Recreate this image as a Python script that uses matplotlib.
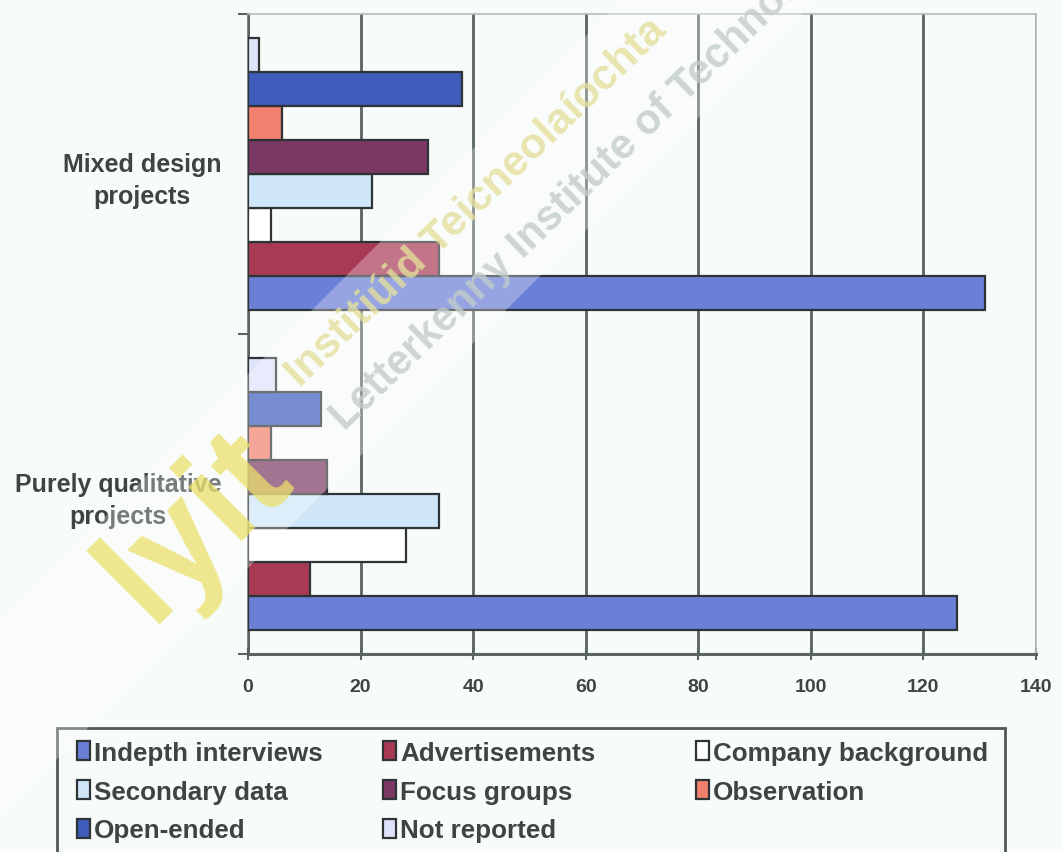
import numpy as np
import matplotlib.pyplot as plt
from matplotlib.patches import Rectangle, Polygon

plt.rcParams['font.family'] = ['Liberation Sans', 'DejaVu Sans']
plt.rcParams['font.weight'] = 'bold'

# project types, bottom to top
categories = ['Purely qualitative\nprojects', 'Mixed design\nprojects']

# series in drawing order (bottom bar of each group first)
series = ['Indepth interviews', 'Advertisements', 'Company background',
          'Secondary data', 'Focus groups', 'Observation',
          'Open-ended', 'Not reported']
indepth = [126, 131]
advertisements = [11, 34]
company = [28, 4]
secondary = [34, 22]
focus = [14, 32]
observation = [4, 6]
open_ended = [13, 38]
not_reported = [5, 2]
values = [indepth, advertisements, company, secondary,
          focus, observation, open_ended, not_reported]

colors = ['#6a7fd6', '#a83a56', '#ffffff', '#cfe6f8',
          '#7b3862', '#f2806e', '#3d5cbc', '#dfe3fa']

bg = '#f7fbf9'
ink = '#3c4444'

fig = plt.figure(figsize=(10.62, 8.53), dpi=100, facecolor=bg)
ax = fig.add_axes([248 / 1062, 1 - 655 / 853, (1036 - 248) / 1062, (655 - 15) / 853])
ax.set_facecolor(bg)

ind = np.arange(len(categories))
group = 0.85
h = group / len(series)
bars = []
for i, (vals, c) in enumerate(zip(values, colors)):
    y = ind - group / 2 + h * (i + 0.5)
    bars.append(ax.barh(y, vals, h, color=c, edgecolor='#2e3436',
                        linewidth=1.6, zorder=3, label=series[i]))

ax.set_xlim(0, 140)
ax.set_ylim(-0.5, 1.5)
ax.set_xticks(np.arange(0, 141, 20))
ax.xaxis.grid(True, color='#5a6464', linewidth=2.0, zorder=0)
ax.set_axisbelow(True)
ax.tick_params(axis='x', direction='inout', length=8, width=1.5,
               color='#5a6464', labelsize=14, labelcolor=ink, pad=13)

ax.set_yticks(ind)
ax.set_yticklabels(categories, ha='right', multialignment='center',
                   linespacing=1.4)
ax.set_yticks([-0.5, 0.5, 1.5], minor=True)
ax.tick_params(axis='y', which='major', length=0, labelsize=18,
               labelcolor=ink, pad=19)
ax.tick_params(axis='y', which='minor', direction='out', length=7,
               width=1.5, color='#5a6464')

ax.spines['bottom'].set_color('#5a6464')
ax.spines['bottom'].set_linewidth(2.2)
ax.spines['left'].set_color('#5a6464')
ax.spines['left'].set_linewidth(1.8)
for s in ['top', 'right']:
    ax.spines[s].set_color('#b4bcbc')
    ax.spines[s].set_linewidth(1.2)

# legend: framed box along the bottom, three columns laid out like rows
px = lambda x, y: (x / 1062, 1 - y / 853)
fig.add_artist(Rectangle(px(57, 900), (1005 - 57) / 1062, (900 - 729) / 853,
                         transform=fig.transFigure, facecolor='none',
                         edgecolor='#505858', linewidth=2.0))
handles = [b[0] for b in bars]
cols = [[0, 3, 6], [1, 4, 7], [2, 5]]
col_x = [64, 370, 683]
for cx, idx in zip(col_x, cols):
    fig.legend([handles[k] for k in idx], [series[k] for k in idx],
               loc='upper left', bbox_to_anchor=px(cx, 729), frameon=False,
               fontsize=18.7, handlelength=0.5, handleheight=0.75,
               handletextpad=0.15, labelspacing=0.56, borderpad=0,
               labelcolor=ink)

# watermark
band = Polygon([px(623 + 400, -400), px(817 + 400, -400),
                px(817 - 900, 900), px(623 - 900, 900)],
               closed=True, transform=fig.transFigure, facecolor='white',
               edgecolor='none', alpha=0.3, zorder=10)
fig.add_artist(band)
fig.text(*px(150, 625), 'lyit', rotation=45, rotation_mode='anchor',
         ha='left', va='baseline', fontsize=102, color='#ebe06a', alpha=0.75,
         zorder=11)
fig.text(*px(300, 388), 'Institiúid Teicneolaíochta',
         rotation=44, rotation_mode='anchor', ha='left', va='baseline',
         fontsize=31, color='#e4df9c', alpha=0.8, zorder=11)
fig.text(*px(345, 432), 'Letterkenny Institute of Technology',
         rotation=44, rotation_mode='anchor', ha='left', va='baseline',
         fontsize=30, color='#c2cccc', alpha=0.8, zorder=11)

plt.savefig('out.png', dpi=100, facecolor=bg)
